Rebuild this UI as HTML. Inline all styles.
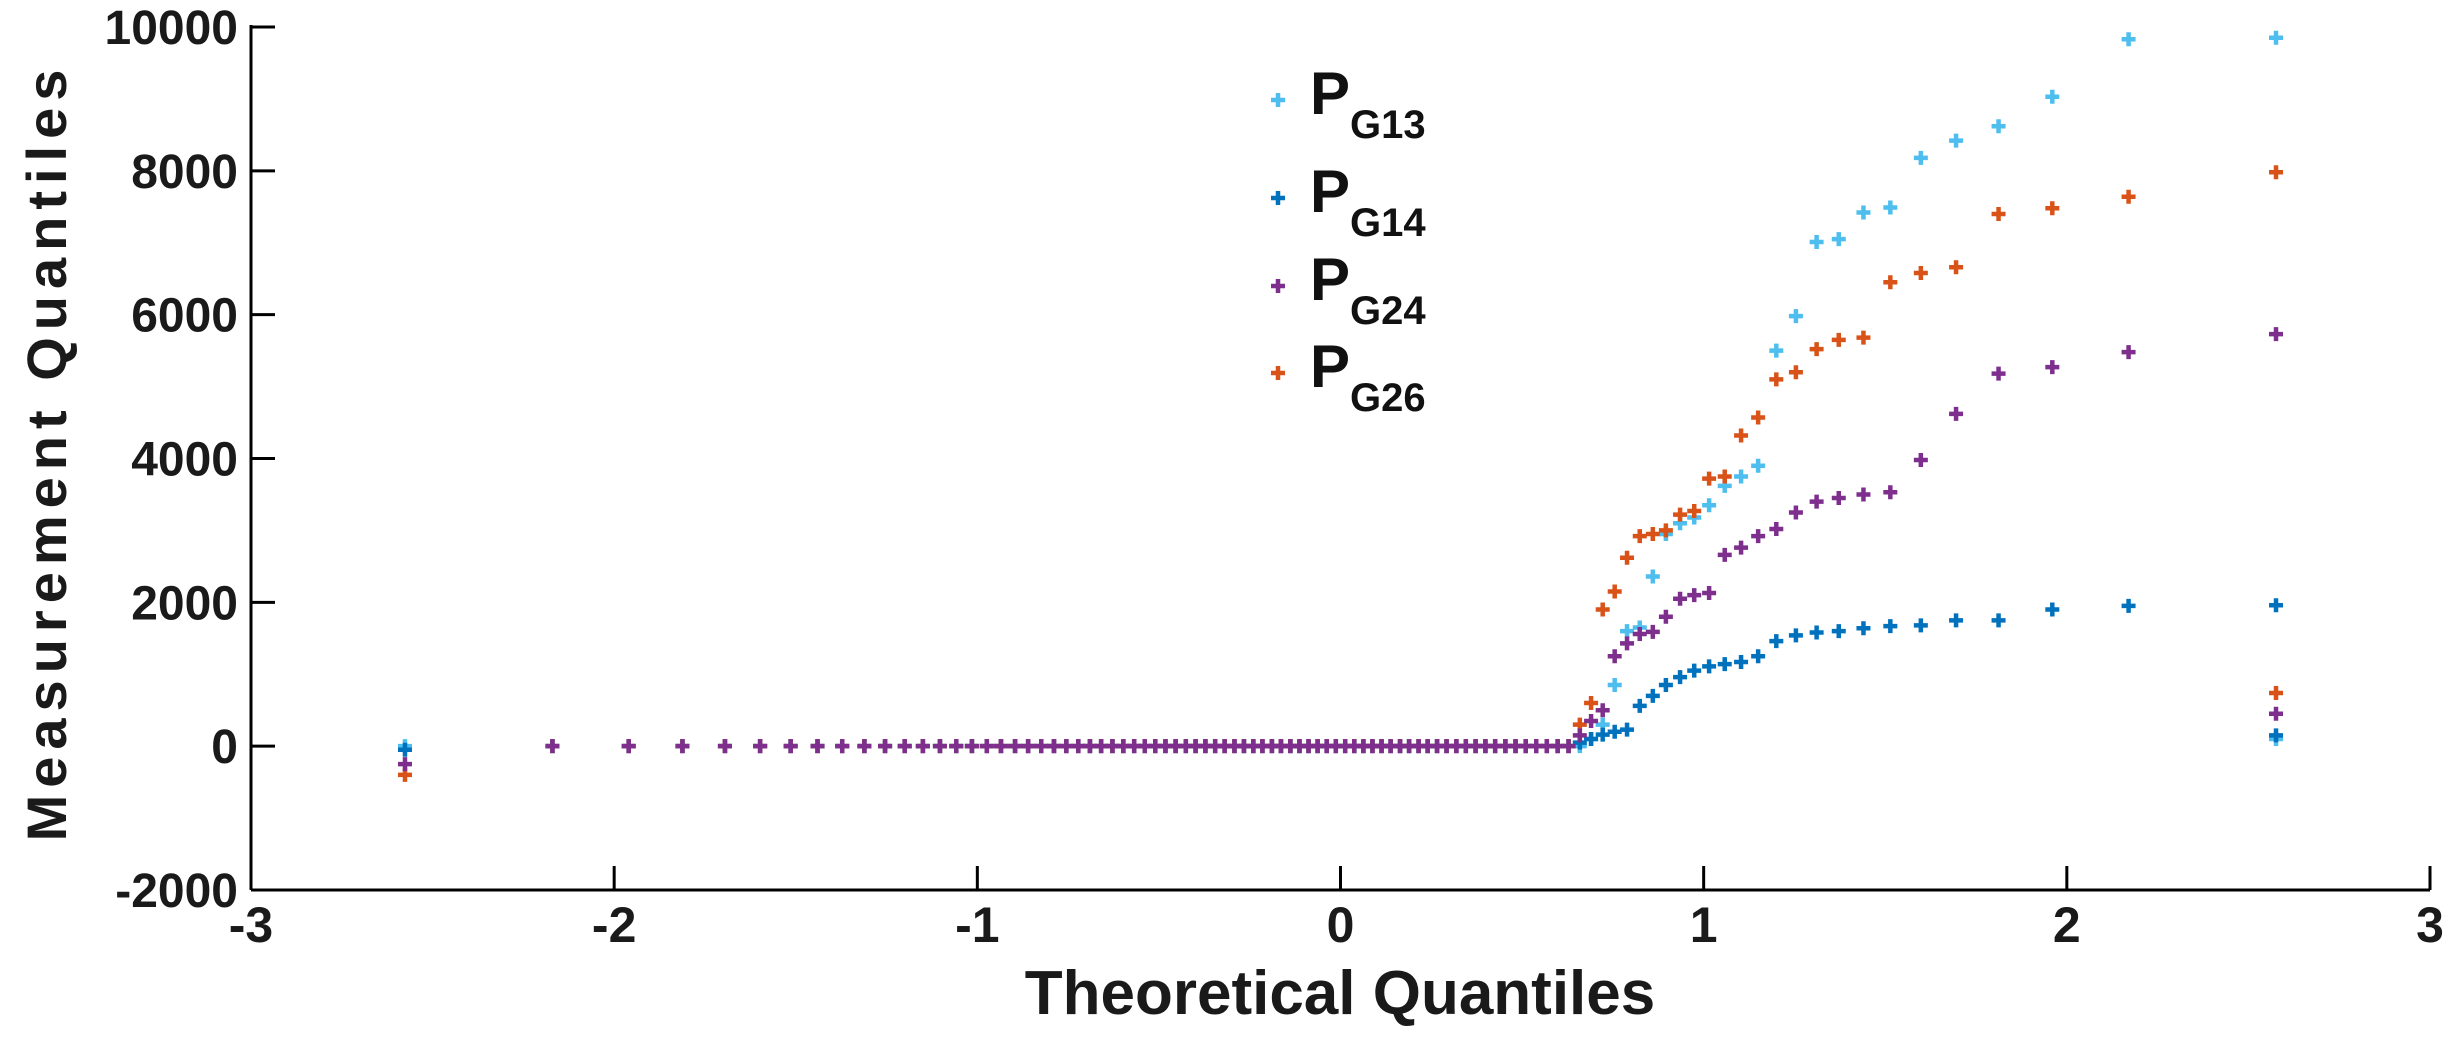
<!DOCTYPE html>
<html><head><meta charset="utf-8"><style>
html,body{margin:0;padding:0;background:#fff;}
svg{display:block;font-family:"Liberation Sans",Arial,sans-serif;font-weight:bold;}
</style></head><body>
<svg id="chart" width="2458" height="1044" viewBox="0 0 2458 1044" xmlns="http://www.w3.org/2000/svg">
<g id="axes"></g>
<g id="marks"></g>
<g id="legend"></g>
</svg>
<script>
const xTicks = [-3,-2,-1,0,1,2,3];
const yTicks = [-2000,0,2000,4000,6000,8000,10000];
const zNeg = [-2.576,-2.170,-1.960,-1.812,-1.695,-1.598,-1.514,-1.440,-1.372,-1.311,-1.254,-1.200,-1.150,-1.103,-1.058,-1.015,-0.974,-0.935,-0.896,-0.860,-0.824,-0.789,-0.755,-0.722,-0.690,-0.659,-0.628,-0.598,-0.568,-0.539,-0.510,-0.482,-0.454,-0.426,-0.399,-0.372,-0.345,-0.319,-0.292,-0.266,-0.240,-0.215,-0.189,-0.164,-0.138,-0.113,-0.088,-0.063,-0.038,-0.013];
const zPos = [0.013,0.038,0.063,0.088,0.113,0.138,0.164,0.189,0.215,0.240,0.266,0.292,0.319,0.345,0.372,0.399,0.426,0.454,0.482,0.510,0.539,0.568,0.598,0.628,0.659,0.690,0.722,0.755,0.789,0.824,0.860,0.896,0.935,0.974,1.015,1.058,1.103,1.150,1.200,1.254,1.311,1.372,1.440,1.514,1.598,1.695,1.812,1.960,2.170,2.576];
const g13First = 0, g14First = -50, g24First = -250, g26First = -400;
const g13Tail = [0,100,300,850,1600,1650,2360,2950,3100,3180,3350,3620,3750,3900,5500,5980,7010,7050,7420,7490,8180,8420,8620,9030,9830,9850];
const g14Tail = [50,100,160,200,230,560,700,850,960,1050,1110,1140,1170,1250,1460,1540,1580,1600,1640,1670,1680,1750,1750,1900,1950,1960];
const g24Tail = [150,350,500,1250,1430,1560,1590,1800,2050,2100,2130,2660,2760,2920,3020,3250,3400,3450,3500,3530,3980,4620,5180,5270,5480,5730];
const g26Tail = [300,600,1900,2150,2620,2920,2950,3000,3220,3270,3720,3750,4320,4570,5100,5200,5520,5650,5680,6450,6580,6660,7400,7480,7640,7980];
const extraZ = 2.576;
const g13Extra = 100, g14Extra = 150, g24Extra = 450, g26Extra = 740;
const seriesNames = ['G13','G14','G24','G26'];
const seriesColors = ['#4DBEEE','#0072BD','#7E2F8E','#D95319'];

const NS='http://www.w3.org/2000/svg';
const L=251,R=2430,T=27,B=890;
const xs=z=>L+(z+3)/6*(R-L);
const ys=v=>T+(10000-v)/12000*(B-T);
function mk(tag,attrs,parent){const e=document.createElementNS(NS,tag);for(const k in attrs)e.setAttribute(k,attrs[k]);parent.appendChild(e);return e;}
const axes=document.getElementById('axes'),marks=document.getElementById('marks'),legend=document.getElementById('legend');

let e=mk('line',{x1:L,y1:T-2,x2:L,y2:B,stroke:'#000','stroke-width':3},axes);


e=mk('line',{x1:L,y1:B,x2:R,y2:B,stroke:'#000','stroke-width':3},axes);


xTicks.forEach(t=>{
  const m=mk('line',{x1:xs(t),y1:B,x2:xs(t),y2:B-24,stroke:'#000','stroke-width':3},axes);
  
  
  const tx=mk('text',{x:xs(t),y:942,'text-anchor':'middle','font-size':50,fill:'#1a1a1a'},axes);
  tx.textContent=String(t);
  
  
});
yTicks.forEach(t=>{
  const m=mk('line',{x1:L,y1:ys(t),x2:L+24,y2:ys(t),stroke:'#000','stroke-width':3},axes);
  
  
  const tx=mk('text',{x:238,y:ys(t)+17,'text-anchor':'end','font-size':48,'textLength':0,fill:'#1a1a1a'},axes);
  tx.removeAttribute('textLength');
  tx.textContent=String(t);
  
  
});
e=mk('text',{x:1340,y:1014,'text-anchor':'middle','font-size':62,fill:'#1a1a1a'},axes);
e.textContent='Theoretical Quantiles';


e=mk('text',{x:0,y:0,'text-anchor':'middle','font-size':56,'letter-spacing':7,fill:'#1a1a1a',transform:'translate(66,452) rotate(-90)'},axes);
e.textContent='Measurement Quantiles';



function plus(x,y,color,parent){
  return mk('path',{d:`M${x-7},${y}H${x+7}M${x},${y-7}V${y+7}`,stroke:color,'stroke-width':4.5,fill:'none'},parent);
}
const firsts=[g13First,g14First,g24First,g26First];
const tails=[g13Tail,g14Tail,g24Tail,g26Tail];
const extras=[g13Extra,g14Extra,g24Extra,g26Extra];
const zAll=zNeg.concat(zPos);
[0,1,3,2].forEach(s=>{
  const vals=[firsts[s]];
  for(let i=1;i<74;i++) vals.push(0);
  tails[s].forEach(v=>vals.push(v));
  const grp=mk('g',{},marks);
  
  
  vals.forEach((v,i)=>{
    const p=plus(xs(zAll[i]),ys(v),seriesColors[s],grp);
    
    
  });
  const p=plus(xs(extraZ),ys(extras[s]),seriesColors[s],grp);
  
  
});
const legY=[100,198,286,373];
seriesNames.forEach((n,i)=>{
  const g=mk('g',{},legend);
  
  
  plus(1278,legY[i],seriesColors[i],g);
  const t=mk('text',{x:1310,y:legY[i]+14,'font-size':60,fill:'#111'},g);
  t.textContent='P';
  const s=mk('tspan',{dy:24,'font-size':40},t);
  s.textContent=n;
});
</script>
</body></html>
